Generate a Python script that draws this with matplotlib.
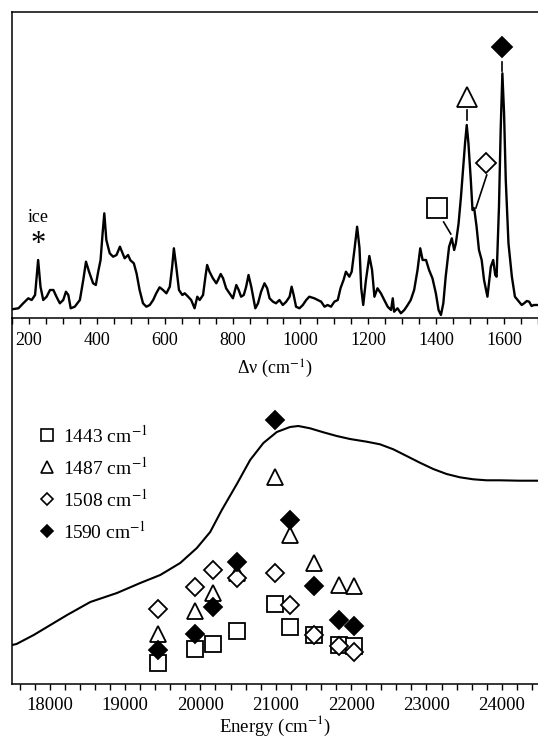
import matplotlib
matplotlib.use('Agg')
import matplotlib.pyplot as plt
from matplotlib.lines import Line2D
from matplotlib.ticker import MultipleLocator

plt.rcParams['font.family'] = ['Liberation Serif', 'DejaVu Serif']
plt.rcParams['mathtext.fontset'] = 'stix'

# Raman spectrum, intensity in arbitrary units
raman_shift = [149, 169, 183, 198, 208, 218, 227, 234, 242, 252, 262, 272, 281, 291,
               301, 309, 316, 323, 335, 350, 360, 368, 377, 389, 397, 404, 411, 417,
               422, 428, 438, 448, 458, 468, 476, 482, 492, 499, 509, 517, 526, 536,
               546, 556, 566, 575, 585, 595, 605, 615, 622, 627, 634, 642, 652, 659,
               669, 678, 688, 696, 703, 713, 720, 725, 732, 742, 752, 757, 765, 772,
               781, 791, 801, 811, 818, 825, 833, 840, 847, 855, 867, 875, 884, 894,
               902, 909, 919, 928, 938, 948, 958, 968, 974, 980, 987, 997, 1007, 1017,
               1026, 1041, 1051, 1061, 1071, 1080, 1090, 1100, 1110, 1118, 1127, 1134,
               1144, 1151, 1159, 1167, 1174, 1179, 1185, 1193, 1203, 1211, 1218, 1227,
               1237, 1247, 1257, 1267, 1272, 1276, 1286, 1296, 1306, 1316, 1325, 1335,
               1345, 1353, 1360, 1370, 1379, 1389, 1399, 1407, 1414, 1421, 1428, 1438,
               1446, 1453, 1458, 1466, 1473, 1479, 1485, 1490, 1495, 1502, 1507, 1512,
               1519, 1526, 1534, 1541, 1551, 1561, 1568, 1574, 1578, 1585, 1590, 1595,
               1600, 1605, 1613, 1623, 1632, 1644, 1652, 1659, 1667, 1674, 1681, 1688, 1697]
raman_int = [8.7, 9.7, 14.7, 19.7, 18, 23, 58, 31.3, 18, 21.3, 28, 28, 21.3, 14.7,
             18, 26.3, 23, 9.7, 11.3, 18, 38, 56.3, 46.3, 34.7, 33, 46.3, 58, 84.7,
             104.7, 78, 64.7, 61.3, 63, 71.3, 64.7, 59.7, 63, 57.7, 54.7, 44.7, 28, 14.7,
             11.3, 13, 18, 24.7, 30.7, 28, 24.7, 31.3, 51.3, 69.7, 51.3, 28, 23, 24.7,
             21.3, 18, 9.7, 21.3, 18, 23, 41.3, 53, 46.3, 39.7, 34.7, 38, 44, 39.7,
             29.7, 24.7, 19.7, 33, 28, 21.3, 23, 31.3, 43, 31.3, 9.7, 14.7, 26.3, 34.7,
             29.7, 19.7, 16.3, 14.7, 18, 13, 16.3, 21.3, 31.3, 23, 11.3, 9.7, 13, 18,
             21.3, 19.7, 18, 16.3, 11.3, 13, 11.3, 16.3, 18, 29.7, 38, 46.3,
             41.3, 46.3, 68, 91.3, 70, 30, 13, 38, 62, 48, 21.3, 29.7,
             24.7, 18, 11.3, 8, 19.7, 6.3, 9.7, 4.7, 8, 13, 18, 28,
             48, 69.7, 58, 58, 48, 39.7, 24.7, 8, 3, 14.7, 41.3, 71.3,
             79.7, 68, 74.7, 94.7, 121.3, 148, 174.7, 193, 174.7, 138, 108, 109.7,
             91.3, 68, 58, 38, 21.3, 51.3, 58, 43, 41.3, 111.3, 188, 244.7,
             204.7, 138, 74.7, 41.3, 21.3, 16.3, 13, 14.7, 17, 16.3, 12, 13, 13]

# peak markers in the upper panel: marker position and leader line ends
mark_nu = [1402, 1490, 1546, 1595]
mark_y = [110, 221, 155, 271]
lead_nu0 = [1422, 1490, 1549, 1595]
lead_y0 = [96, 208, 143, 256]
lead_nu1 = [1443, 1490, 1517, 1595]
lead_y1 = [84, 198, 110, 247]

# absorption spectrum (lower panel)
abs_energy = [17502, 17560, 17788, 18231, 18539, 18893, 19202, 19467, 19732, 19953,
              20130, 20284, 20484, 20660, 20836, 21014, 21190, 21300, 21455, 21632,
              21809, 21985, 22207, 22383, 22560, 22737, 22913, 23090, 23267, 23443,
              23620, 23797, 23973, 24238, 24477]
abs_val = [39, 40, 49, 69, 82, 91, 101, 109, 121, 136,
           152, 174, 200, 224, 241, 252, 257, 258, 255.7, 251.7,
           248, 245, 242.3, 239.7, 234.7, 228, 221.3, 215, 210, 206.7,
           204.7, 203.7, 203.7, 203.3, 203.3]

# excitation profiles of the four bands
labels = ['1443', '1487', '1508', '1590']
exc_energy = [19431, 19931, 20161, 20492, 20991, 21190, 21508, 21840, 22034]
prof_1443 = [21.3, 34.7, 40, 53.3, 80, 57.3, 49, 39, 38]
prof_1487 = [50, 73.3, 90.7, 110.7, 206.7, 149, 120.7, 99, 98.3]
prof_1508 = [74.7, 97.3, 114, 105.7, 111.3, 79, 49, 38, 32.3]
prof_1590 = [34, 50, 76.7, 121.7, 264, 164, 98, 64, 58.3]

fig = plt.figure(figsize=(5.38, 7.4), dpi=100)
ax2 = fig.add_axes([12 / 538, 1 - 684 / 740, 1 - 12 / 538, 366 / 740])
ax1 = fig.add_axes([12 / 538, 1 - 318 / 740, 1 - 12 / 538, 306 / 740])
ax1.patch.set_alpha(0)
ax2.patch.set_alpha(0)

# upper panel: Raman spectrum
ax1.plot(raman_shift, raman_int, color='black', lw=1.7)
ax1.set_xlim(150, 1700)
ax1.set_ylim(0, 306)
ax1.xaxis.set_major_locator(MultipleLocator(200))
ax1.xaxis.set_minor_locator(MultipleLocator(50))
ax1.tick_params(axis='x', which='both', direction='out', length=4, width=1, labelsize=13, pad=6)
ax1.set_yticks([])
ax1.spines['right'].set_visible(False)
for s in ax1.spines.values():
    s.set_linewidth(1.1)
ax1.set_xlabel('Δν (cm$^{-1}$)', fontsize=13, labelpad=6)

styles = [dict(marker='s', mfc='white'), dict(marker='^', mfc='white'),
          dict(marker='D', mfc='white'), dict(marker='D', mfc='black')]
top_ms = [14.4, 14.4, 10.2, 10.6]
for i in range(4):
    ax1.plot([lead_nu0[i], lead_nu1[i]], [lead_y0[i], lead_y1[i]], color='black', lw=1.2)
    ax1.plot(mark_nu[i], mark_y[i], ls='none', mec='black', mew=1.3, ms=top_ms[i], **styles[i])

ax1.text(226, 100, 'ice', ha='center', va='center', fontsize=13)
ax1.text(226, 74, '*', ha='center', va='center', fontsize=22)

# lower panel: absorption and excitation profiles
ax2.plot(abs_energy, abs_val, color='black', lw=1.5)
profiles = [prof_1443, prof_1487, prof_1508, prof_1590]
low_ms = [12.2, 12.2, 8.7, 8.7]
for i in range(4):
    ax2.plot(exc_energy, profiles[i], ls='none', mec='black', mew=1.3, ms=low_ms[i], **styles[i])
ax2.set_xlim(17500, 24480)
ax2.set_ylim(0, 366)
ax2.xaxis.set_major_locator(MultipleLocator(1000))
ax2.xaxis.set_minor_locator(MultipleLocator(200))
ax2.tick_params(axis='x', which='both', direction='out', length=4, width=1, labelsize=13.5, pad=5.5)
ax2.set_yticks([])
ax2.spines['right'].set_visible(False)
ax2.spines['top'].set_visible(False)
for s in ax2.spines.values():
    s.set_linewidth(1.1)
ax2.set_xlabel('Energy (cm$^{-1}$)', fontsize=13.5, labelpad=0)

handles = [Line2D([], [], ls='none', mec='black', mew=1.2, ms=[8.5, 8.5, 6, 6][i], **styles[i])
           for i in range(4)]
ax2.legend(handles, [l + ' cm$^{-1}$' for l in labels], loc='upper left',
           bbox_to_anchor=(0.048, 0.71), frameon=False, fontsize=14,
           handlelength=1.0, handletextpad=0.35, labelspacing=0.52,
           borderpad=0, borderaxespad=0)

fig.savefig('out.png', dpi=100)
